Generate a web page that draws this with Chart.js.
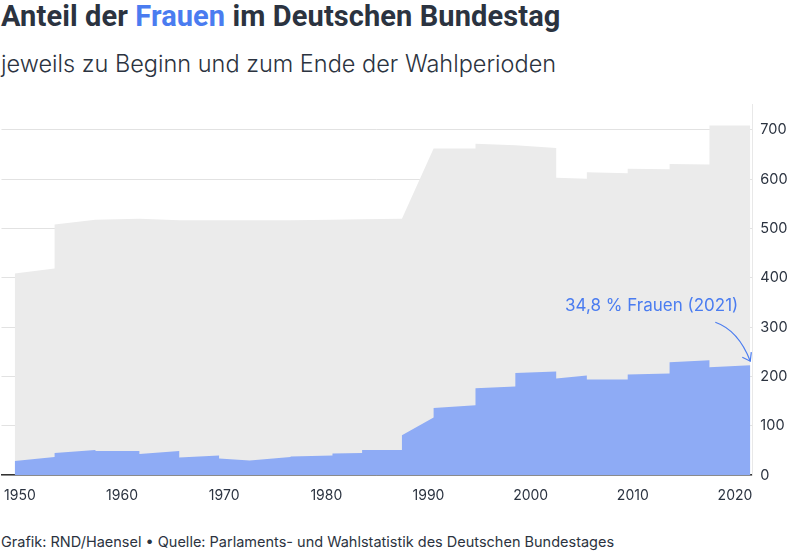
<!DOCTYPE html>
<html><head><meta charset="utf-8">
<script src="https://cdn.jsdelivr.net/npm/chart.js@4"></script>
<style>
body{margin:0;width:800px;height:554px;background:#fff;font-family:Inter,"Noto Sans",sans-serif;color:#2b3340;position:relative;overflow:hidden}
#t{position:absolute;left:1px;top:-1px;font:bold 29px Roboto,sans-serif;letter-spacing:0.1px}
#t span{color:#4a7cf0}
#s{position:absolute;left:1px;top:49px;font:300 23.5px Inter,sans-serif}
#f{position:absolute;left:1px;top:533px;font:14.5px Inter,sans-serif}
#c{position:absolute;left:0;top:88px}
</style></head><body>
<div id="t">Anteil der <span>Frauen</span> im Deutschen Bundestag</div>
<div id="s">jeweils zu Beginn und zum Ende der Wahlperioden</div>
<canvas id="c" width="800" height="420"></canvas>
<div id="f">Grafik: RND/Haensel • Quelle: Parlaments- und Wahlstatistik des Deutschen Bundestages</div>
<script>
const years = [1949.5,1953.4,1953.4,1957.4,1957.4,1961.7,1961.7,1965.6,1965.6,1969.5,1969.5,1972.5,1972.5,1976.5,1976.5,1980.6,1980.6,1983.5,1983.5,1987.4,1987.4,1990.5,1990.5,1994.6,1994.6,1998.5,1998.5,2002.5,2002.5,2005.5,2005.5,2009.5,2009.5,2013.6,2013.6,2017.5,2017.5,2021.5];
const totalSeats = [409,419,508,518,518,520,520,517,517,517,517,517,517,517,517,518,518,519,519,520,520,662,662,662,672,669,669,663,603,601,614,612,621,620,631,630,709,709];
const womenSeats = [29,37,45,51,49,49,43,49,36,40,34,30,30,37,38,40,44,45,51,51,81,117,136,142,176,180,207,210,196,202,194,194,204,206,229,233,219,223];
const xTicks = [1950,1960,1970,1980,1990,2000,2010,2020];
const yTicks = [0,100,200,300,400,500,600,700];
const labelText = "34,8 % Frauen (2021)";
const mk = arr => years.map((x,i)=>({x, y:arr[i]}));
const annot = {id:'annot', afterDatasetsDraw(ch){
  const c=ch.ctx, xs=ch.scales.x, ys=ch.scales.y;
  const tx=xs.getPixelForValue(2021.5), ty=ys.getPixelForValue(womenSeats[womenSeats.length-1]);
  c.save();
  c.fillStyle='#4a7cf0'; c.font='17px Inter'; c.textAlign='right'; c.textBaseline='middle';
  c.fillText(labelText, tx-12, ys.getPixelForValue(343));
  c.strokeStyle='#4a7cf0'; c.lineWidth=1.2;
  const sx=tx-35, sy=ys.getPixelForValue(310);
  c.beginPath(); c.moveTo(sx,sy); c.quadraticCurveTo(tx-12,sy+8,tx,ty-4); c.stroke();
  c.beginPath(); c.moveTo(tx-8,ty-8); c.lineTo(tx,ty-4); c.lineTo(tx+1,ty-13); c.stroke();
  c.restore();
}};
new Chart(document.getElementById('c'),{
  type:'line',
  data:{datasets:[
    {data:mk(womenSeats),fill:'origin',backgroundColor:'#8eabf5',borderWidth:0,pointRadius:0,tension:0},
    {data:mk(totalSeats),fill:'origin',backgroundColor:'#ebebeb',borderWidth:0,pointRadius:0,tension:0}
  ]},
  options:{responsive:false,animation:false,
    layout:{padding:{top:5,right:4,left:0,bottom:0}},
    plugins:{legend:{display:false},tooltip:{enabled:false}},
    scales:{
      x:{type:'linear',min:1948.2,max:2021.7,
        afterBuildTicks:a=>{a.ticks=xTicks.map(v=>({value:v}));},
        grid:{display:false,drawTicks:true},
        border:{display:true,color:'#333',width:1.5},
        ticks:{color:'#2b3340',font:{size:14,family:'Inter'},padding:4,maxRotation:0,callback:v=>String(v)}},
      y:{position:'right',min:0,max:751,
        afterBuildTicks:a=>{a.ticks=yTicks.map(v=>({value:v}));},
        grid:{color:'#e2e2e2',drawTicks:false},
        border:{display:true,color:'#e8e8e8'},
        ticks:{color:'#2b3340',font:{size:14.5,family:'Inter'},padding:8}}
    }},
  plugins:[annot]
});
</script></body></html>
